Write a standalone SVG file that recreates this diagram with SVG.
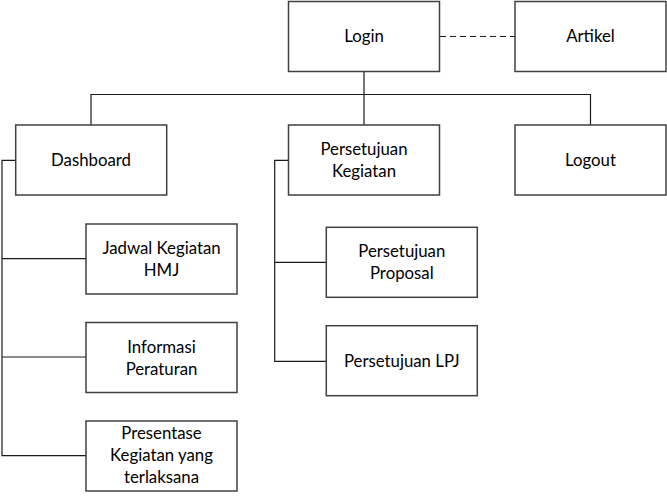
<svg xmlns="http://www.w3.org/2000/svg" width="667" height="499" viewBox="0 0 667 499">
<style>
.box{fill:#fff;stroke:#404040;stroke-width:1.5}
.ln{fill:none;stroke:#1a1a1a;stroke-width:1.2}
.dash{fill:none;stroke:#1a1a1a;stroke-width:1.2;stroke-dasharray:6 4}
text{font-family:Lato,"Open Sans","Liberation Sans",sans-serif;font-size:16.8px;fill:#000;text-anchor:middle}
</style>
<rect width="667" height="499" fill="#fff"/>
<g id="connectors">
<path class="dash" d="M440 36.5H515"/>
<path class="ln" d="M364 72V125M91 125V94.5H590.5V125"/>
<path class="ln" d="M16 160.3H2V455.7H86M2 258.7H86M2 357H86"/>
<path class="ln" d="M289 160.3H274.7V361.3H326.5M274.7 262.3H326.5"/>
</g>
<g id="login"><rect class="box" x="288.5" y="1.5" width="151" height="70"/><text x="364" y="42">Login</text></g>
<g id="artikel"><rect class="box" x="515" y="1.5" width="151" height="70"/><text x="590.5" y="42">Artikel</text></g>
<g id="dashboard"><rect class="box" x="15.7" y="125" width="151" height="70"/><text x="91" y="166">Dashboard</text></g>
<g id="persetujuan-kegiatan"><rect class="box" x="288.5" y="125" width="151" height="70"/><text x="364" y="155">Persetujuan<tspan x="364" dy="22">Kegiatan</tspan></text></g>
<g id="logout"><rect class="box" x="515" y="125" width="151" height="70"/><text x="590.5" y="166">Logout</text></g>
<g id="jadwal"><rect class="box" x="86" y="224" width="151" height="70"/><text x="161.5" y="254">Jadwal Kegiatan<tspan x="161.5" dy="22">HMJ</tspan></text></g>
<g id="informasi"><rect class="box" x="86" y="322.5" width="151" height="70"/><text x="161.5" y="352.5">Informasi<tspan x="161.5" dy="22">Peraturan</tspan></text></g>
<g id="presentase"><rect class="box" x="86" y="421" width="151" height="70"/><text x="161.5" y="439">Presentase<tspan x="161.5" dy="22">Kegiatan yang</tspan><tspan x="161.5" dy="22">terlaksana</tspan></text></g>
<g id="proposal"><rect class="box" x="326.3" y="227.3" width="151" height="70"/><text x="401.8" y="257.3">Persetujuan<tspan x="401.8" dy="22">Proposal</tspan></text></g>
<g id="lpj"><rect class="box" x="326.3" y="325.7" width="151" height="70"/><text x="401.8" y="366.7">Persetujuan LPJ</text></g>
</svg>
